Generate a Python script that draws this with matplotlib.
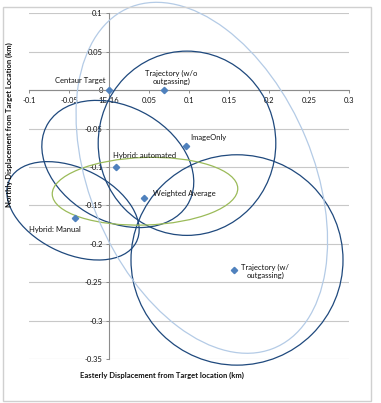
import matplotlib
matplotlib.use("Agg")
import matplotlib.pyplot as plt
from matplotlib.patches import Ellipse, Rectangle
from matplotlib.ticker import FixedLocator, FixedFormatter

plt.rcParams['font.family'] = ['Lato', 'DejaVu Sans']

# solution points (km)
names = ["Centaur Target", "Trajectory (w/o\noutgassing)", "ImageOnly",
         "Hybrid: automated", "Weighted Average", "Hybrid: Manual",
         "Trajectory (w/\noutgassing)"]
east = [0.0, 0.069, 0.096, 0.009, 0.044, -0.0425, 0.1566]
north = [0.0, 0.0, -0.072, -0.100, -0.140, -0.167, -0.2344]

# uncertainty ellipses: centre, semi-axes (km), tilt (deg)
ell_east = [0.0975, 0.160, 0.011, -0.045, 0.045, 0.116]
ell_north = [-0.069, -0.221, -0.096, -0.157, -0.1315, -0.114]
ell_a = [0.111, 0.1325, 0.102, 0.089, 0.116, 0.2395]
ell_b = [0.120, 0.137, 0.074, 0.055, 0.044, 0.140]
ell_tilt = [0, 0, -32, -28, 2, 111.6]
ell_kind = ["dark", "dark", "dark", "dark", "green", "light"]

xticks = [-0.1, -0.05, 0.0, 0.05, 0.1, 0.15, 0.2, 0.25, 0.3]
xticklabels = ["-0.1", "-0.05", "1E-16", "0.05", "0.1", "0.15", "0.2", "0.25", "0.3"]
yticks = [0.1, 0.05, 0.0, -0.05, -0.1, -0.15, -0.2, -0.25, -0.3, -0.35]
yticklabels = ["0.1", "0.05", "0", "-0.05", "-0.1", "-0.15", "-0.2", "-0.25", "-0.3", "-0.35"]

colours = {"dark": "#1F497D", "green": "#9BBB59", "light": "#B4CBE6"}

# label offsets in pixels from each point
label_dx = [-29, 7, 4, -3, 9, -20, 31]
label_dy = [10, 13, 8, 12, 4, -11, -1]
label_ha = ["center", "center", "left", "left", "left", "center", "center"]

W, H = 381, 403
fig = plt.figure(figsize=(W / 100, H / 100), dpi=100)
ax = fig.add_axes([29 / W, (H - 359) / H, 320 / W, 345.5 / H])

fig.patches.append(Rectangle((3 / W, 2 / H), 368 / W, 394 / H, transform=fig.transFigure,
                             fill=False, edgecolor="#D0D0D0", lw=1))

ax.set_xlim(-0.1, 0.3)
ax.set_ylim(-0.35, 0.1)
for s in ["top", "right"]:
    ax.spines[s].set_visible(False)
ax.spines["left"].set_position(("data", 0))
ax.spines["bottom"].set_position(("data", 0))
ax.spines["left"].set_color("#8C8C8C")
ax.spines["bottom"].set_color("#8C8C8C")
ax.spines["left"].set_linewidth(0.8)
ax.spines["bottom"].set_linewidth(0.8)

ax.xaxis.set_major_locator(FixedLocator(xticks))
ax.xaxis.set_major_formatter(FixedFormatter(xticklabels))
ax.yaxis.set_major_locator(FixedLocator(yticks))
ax.yaxis.set_major_formatter(FixedFormatter(yticklabels))
ax.tick_params(axis="both", direction="out", length=2.5, width=0.7, color="#8C8C8C",
               labelsize=5.5, labelcolor="#111111")
ax.tick_params(axis="x", pad=2.5)
ax.tick_params(axis="y", pad=2)
ax.yaxis.grid(True, color="#C8C8C8", lw=0.8)
ax.set_axisbelow(True)

for i in range(len(ell_a)):
    ax.add_patch(Ellipse((ell_east[i], ell_north[i]), 2 * ell_a[i], 2 * ell_b[i],
                         angle=ell_tilt[i], fill=False, edgecolor=colours[ell_kind[i]],
                         lw=0.9, clip_on=False, zorder=3))

ax.plot(east, north, linestyle="none", marker="D", markersize=3.2, color="#4F81BD",
        clip_on=False, zorder=4)

for i, n in enumerate(names):
    ax.annotate(n, (east[i], north[i]), xytext=(label_dx[i], label_dy[i]),
                textcoords="offset pixels", ha=label_ha[i], va="center",
                multialignment="center", fontsize=5.5, color="#111111", zorder=5)

fig.text(161.5 / W, 1 - 375 / H, "Easterly Displacement from Target location (km)",
         ha="center", va="center", fontsize=5.5, fontweight="bold", color="#111111")
fig.text(9 / W, 1 - 125 / H, "Northly Displacement from Target Location (km)",
         ha="center", va="center", rotation=90, fontsize=5.5, fontweight="bold",
         color="#111111")

fig.savefig("out.png", dpi=100)
